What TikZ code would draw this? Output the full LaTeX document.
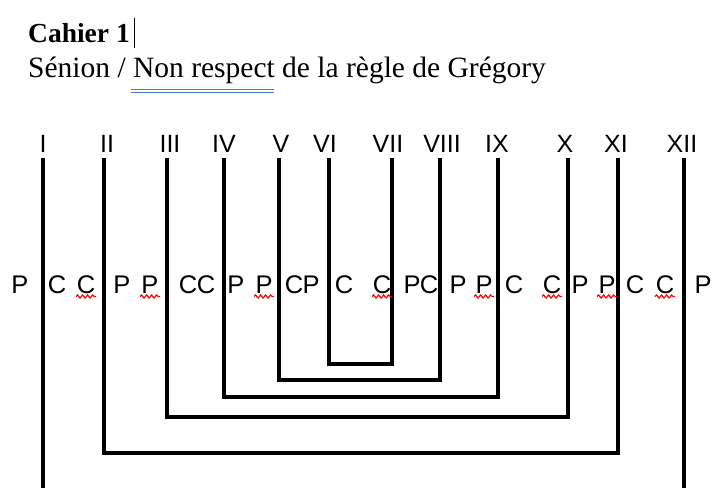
\documentclass[tikz,border=0pt]{standalone}
\usepackage{fontspec}
\setmainfont{Liberation Serif}
\newfontfamily\arialf{Liberation Sans}
\usetikzlibrary{decorations.pathmorphing}
\begin{document}
\begin{tikzpicture}[x=1pt,y=-1pt,
  numlabel/.style={font=\arialf\fontsize{25}{29}\selectfont, anchor=base, inner sep=0pt},
  letter/.style={font=\arialf\fontsize{25.5}{29}\selectfont, anchor=base, inner sep=0pt},
  rule/.style={line width=3.2pt, line join=miter},
  wavy/.style={draw=red, line width=1.2pt, decorate, decoration={snake, amplitude=1.5pt, segment length=5pt}},
  spell/.style={draw={rgb,255:red,70;green,120;blue,220}, line width=1pt}]
\useasboundingbox (0,0) rectangle (714,488);

% title block
\node[anchor=base west, inner sep=0pt, font=\bfseries\fontsize{27.5}{32}\selectfont] (title) at (28,42) {Cahier 1};
\coordinate (curT) at (134,18);
\coordinate (curB) at (134,48);
\draw[line width=1pt] (curT) -- (curB);
\node[anchor=base west, inner sep=0pt, font=\fontsize{29.5}{34}\selectfont] (sub) at (28,77) {Sénion / Non respect de la règle de Grégory};
\coordinate (u1a) at (131,89.5); \coordinate (u1b) at (274,89.5);
\coordinate (u2a) at (131,92.5); \coordinate (u2b) at (274,92.5);
\draw[spell] (u1a) -- (u1b);
\draw[spell] (u2a) -- (u2b);

% roman numerals and line tops
\foreach \lx/\x/\t [count=\i] in {43/43/I,107/104/II,170/167/III,224/224/IV,281/279/V,325/329/VI,388/392/VII,442/440/VIII,497/498/IX,565/568/X,616/618/XI,682/684/XII}{
  \node[numlabel] (n\i) at (\lx,152) {\t};
  \coordinate (t\i) at (\x,158);
}

% outer lines I and XII
\coordinate (b1) at (43,488);
\coordinate (b12) at (684,488);
\draw[rule] (t1) -- (b1);
\draw[rule] (t12) -- (b12);

% nested brackets
\foreach \a/\b/\y in {2/11/453,3/10/417,4/9/397,5/8/380,6/7/364}{
  \draw[rule] (t\a) -- (t\a |- 0,\y) -- (t\b |- 0,\y) -- (t\b);
}

% letters row
\foreach \x/\t [count=\i] in {20/P,57/C,86/C,122/P,150/P,188/C,206/C,236/P,264/P,294/C,311/P,344/C,382/C,412/P,429/C,458/P,484/P,514/C,552/C,580/P,607/P,635/C,665/C,703/P}{
  \node[letter] (L\i) at (\x,293) {\t};
}
\foreach \i in {3,5,9,13,17,19,21,23}{
  \draw[wavy] ([xshift=-10pt,yshift=-3.5pt]L\i.base) -- ([xshift=10pt,yshift=-3.5pt]L\i.base);
}
\end{tikzpicture}
\end{document}
